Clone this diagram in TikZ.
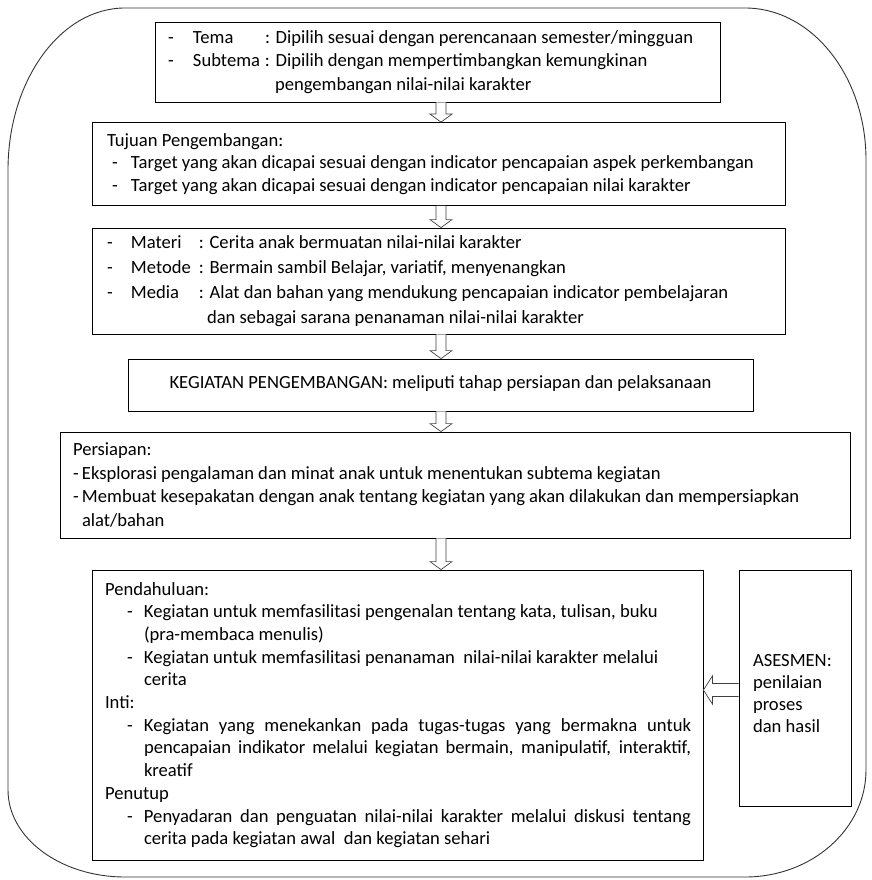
\documentclass[tikz,border=0pt]{standalone}
\usepackage{fontspec}
\setmainfont{Carlito}
\usetikzlibrary{calc}
\newcommand\txt[1]{\fontsize{18.6pt}{#1}\selectfont}
\newcommand\ditem[3]{\par\hangindent=#2\hangafter=1\relax\leavevmode\hspace*{#1}\makebox[\dimexpr#2-#1\relax][l]{-}#3}
\newcommand\hdown[2]{%
  \draw[harrow] let \p1=(#1), \p2=(#2) in
    (\x1-5pt,\y1) -- (\x1-5pt,\y2+8pt) -- (\x1-11pt,\y2+8pt) -- (\x1,\y2)
    -- (\x1+11pt,\y2+8pt) -- (\x1+5pt,\y2+8pt) -- (\x1+5pt,\y1);}
\begin{document}
\begin{tikzpicture}[x=1pt,y=-1pt,
  box/.style={draw, line width=0.8pt, rectangle, inner sep=0pt, font=\txt{23pt}},
  harrow/.style={draw=black!75, line width=0.7pt, fill=white},
  outer/.style={draw=black!80, line width=0.9pt}]
\useasboundingbox (0,0) rectangle (871,880);
\hyphenpenalty=10000
% outer frame
\draw[outer] (125,8) -- (745,8)
  .. controls (745+0.552*121,8) and (866,160-0.552*152) .. (866,160)
  -- (866,770)
  .. controls (866,770+0.552*107) and (745+0.552*121,877) .. (745,877)
  -- (125,877)
  .. controls (125-0.552*117,877) and (8,790+0.552*87) .. (8,790)
  -- (8,170)
  .. controls (8,170-0.552*162) and (125-0.552*117,8) .. cycle;

% box 1
\node[box, minimum height=80pt] (b1) at (437.5,62) {\makebox[565pt][l]{\hspace*{13pt}\parbox{550pt}{\txt{23.5pt}
\makebox[25pt][l]{-}\makebox[72pt][l]{Tema}: Dipilih sesuai dengan perencanaan semester/mingguan\\
\makebox[25pt][l]{-}\makebox[72pt][l]{Subtema}: Dipilih dengan mempertimbangkan kemungkinan\\
\hspace*{107pt}pengembangan nilai-nilai karakter}}};

% box 2
\node[box, minimum height=83pt] (b2) at (438.5,164) {\makebox[693pt][l]{\hspace*{15pt}\parbox{675pt}{\txt{22.5pt}
Tujuan Pengembangan:\\
\hspace*{5pt}\makebox[19pt][l]{-}Target yang akan dicapai sesuai dengan indicator pencapaian aspek perkembangan\\
\hspace*{5pt}\makebox[19pt][l]{-}Target yang akan dicapai sesuai dengan indicator pencapaian nilai karakter}}};

% box 3
\node[box, minimum height=106pt] (b3) at (438.5,281) {\makebox[693pt][l]{\hspace*{15pt}\parbox{675pt}{\txt{24.8pt}
\makebox[24pt][l]{-}\makebox[68pt][l]{Materi}: Cerita anak bermuatan nilai-nilai karakter\\
\makebox[24pt][l]{-}\makebox[68pt][l]{Metode}: Bermain sambil Belajar, variatif, menyenangkan\\
\makebox[24pt][l]{-}\makebox[68pt][l]{Media}: Alat dan bahan yang mendukung pencapaian indicator pembelajaran\\
\hspace*{100pt}dan sebagai sarana penanaman nilai-nilai karakter}}};

% box 4
\node[box, minimum width=625pt, minimum height=52pt] (b4) at (440.5,385)
  {\raisebox{5pt}{KEGIATAN PENGEMBANGAN: meliputi tahap persiapan dan pelaksanaan}};

% box 5
\node[box, minimum height=106pt] (b5) at (455,485) {\makebox[790pt][l]{\hspace*{13pt}\parbox{770pt}{\txt{23.7pt}
Persiapan:\\
\makebox[9pt][l]{-}Eksplorasi pengalaman dan minat anak untuk menentukan subtema kegiatan\\
\makebox[9pt][l]{-}Membuat kesepakatan dengan anak tentang kegiatan yang akan dilakukan dan mempersiapkan\\
\hspace*{9pt}alat/bahan}}};

% box 6
\node[box, minimum height=290pt] (b6) at (397.5,715) {\makebox[611pt][l]{\hspace*{13pt}\parbox{586pt}{\txt{22.7pt}
Pendahuluan:
\ditem{22pt}{39pt}{Kegiatan untuk memfasilitasi pengenalan tentang kata, tulisan, buku\newline (pra-membaca menulis)}
\ditem{22pt}{39pt}{Kegiatan untuk memfasilitasi penanaman\ \ nilai-nilai karakter melalui\newline cerita}
\par Inti:
\ditem{22pt}{39pt}{Kegiatan yang menekankan pada tugas-tugas yang bermakna untuk\linebreak pencapaian indikator melalui kegiatan bermain, manipulatif, interaktif,\linebreak kreatif}
\par Penutup
\ditem{22pt}{39pt}{Penyadaran dan penguatan nilai-nilai karakter melalui diskusi tentang\linebreak cerita pada kegiatan awal\ \ dan kegiatan sehari}}}};

% box 7
\node[box, minimum height=236pt] (b7) at (795,688) {\makebox[112pt][l]{\hspace*{14pt}\parbox{96pt}{\txt{22pt}\vspace*{12pt}
ASESMEN:\\penilaian\\proses\\dan hasil}}};

% arrows
\coordinate (ax) at (441,0);
\hdown{ax |- b1.south}{ax |- b2.north}
\hdown{ax |- b2.south}{ax |- b3.north}
\hdown{ax |- b3.south}{ax |- b4.north}
\hdown{ax |- b4.south}{ax |- b5.north}
\hdown{ax |- b5.south}{ax |- b6.north}
\coordinate (ay) at (0,690);
\draw[harrow] let \p1=(b7.west |- ay), \p2=(b6.east |- ay) in
  (\x1,\y1+6.5pt) -- (\x2+9pt,\y1+6.5pt) -- (\x2+9pt,\y1+14pt) -- (\x2,\y1)
  -- (\x2+9pt,\y1-14pt) -- (\x2+9pt,\y1-6.5pt) -- (\x1,\y1-6.5pt);
\end{tikzpicture}
\end{document}
